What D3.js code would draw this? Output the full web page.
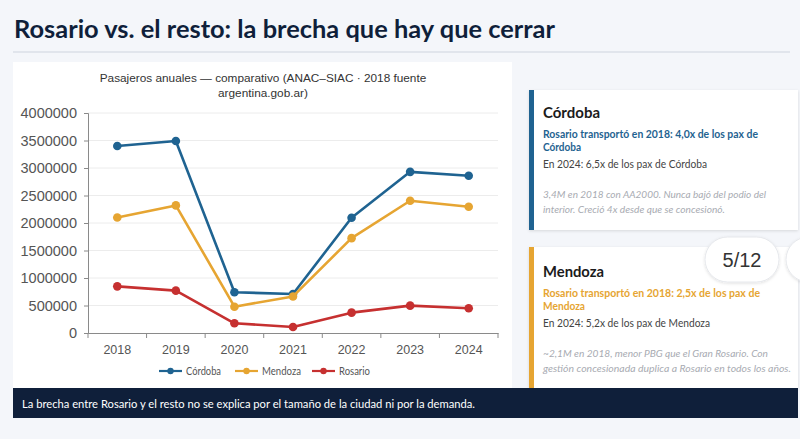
<!DOCTYPE html>
<html><head><meta charset="utf-8">
<script src="https://cdn.jsdelivr.net/npm/d3@7"></script>
<style>
html,body{margin:0;padding:0;background:#f4f6fa;}
svg{display:block;}
</style></head>
<body>
<svg id="c" width="800" height="439"></svg>
<script>
const years = ["2018","2019","2020","2021","2022","2023","2024"];
const cordoba = [3400000, 3490000, 740000, 710000, 2095000, 2930000, 2860000];
const mendoza = [2100000, 2320000, 478000, 665000, 1725000, 2405000, 2295000];
const rosario = [848000, 770000, 176000, 109000, 370000, 497000, 449000];
const seriesNames = ["Córdoba","Mendoza","Rosario"];
const seriesColors = ["#1f6391","#e6a532","#c63030"];
const yTicks = [0,500000,1000000,1500000,2000000,2500000,3000000,3500000,4000000];

const svg = d3.select("#c");
const SANS = "Lato, 'Open Sans', sans-serif";
const ARIAL = "'Liberation Sans', Arial, sans-serif";

function squeeze(t, w){
  t.attr("textLength", w).attr("lengthAdjust","spacingAndGlyphs");
  return t;
}

const defs = svg.append("defs");
const f = defs.append("filter").attr("id","sh").attr("x","-10%").attr("y","-10%").attr("width","120%").attr("height","130%");
f.append("feDropShadow").attr("dx",0).attr("dy",1).attr("stdDeviation",1.5).attr("flood-color","#000").attr("flood-opacity",0.12);

svg.append("rect").attr("width",800).attr("height",439).attr("fill","#f4f6fa");

// title
squeeze(svg.append("text").attr("x",14).attr("y",38).attr("font-family",SANS).attr("font-weight",700)
  .attr("font-size",25).attr("fill","#0f1f3a").text("Rosario vs. el resto: la brecha que hay que cerrar"), 541);
svg.append("rect").attr("x",13).attr("y",51).attr("width",777).attr("height",2).attr("fill","#e1e5ec");

// chart panel
svg.append("rect").attr("x",13).attr("y",62).attr("width",499).attr("height",330).attr("fill","#ffffff");

// chart title
const ct = svg.append("text").attr("font-family",ARIAL).attr("font-size",11.8).attr("fill","#333").attr("text-anchor","middle");
ct.append("tspan").attr("x",263).attr("y",82).text("Pasajeros anuales — comparativo (ANAC–SIAC · 2018 fuente");
ct.append("tspan").attr("x",263).attr("y",97).text("argentina.gob.ar)");

const x = d3.scaleBand().domain(years).range([88,498]).padding(0);
const y = d3.scaleLinear().domain([0,4000000]).range([333,113]);

svg.append("g").selectAll("line").data(yTicks.slice(1)).join("line")
  .attr("x1",88).attr("x2",498).attr("y1",d=>y(d)).attr("y2",d=>y(d))
  .attr("stroke","#ececec").attr("stroke-width",1);

const ya = svg.append("g").attr("transform","translate(88,0)")
  .call(d3.axisLeft(y).tickValues(yTicks).tickFormat(d3.format("d")).tickSize(4).tickPadding(7));
ya.select(".domain").attr("stroke","#8a8a8a");
ya.selectAll(".tick line").attr("stroke","#8a8a8a");
ya.selectAll("text").attr("font-family",ARIAL).attr("font-size",14.5).attr("fill","#555");

const xa = svg.append("g").attr("transform","translate(0,333)")
  .call(d3.axisBottom(x).tickSize(0).tickPadding(12));
xa.select(".domain").attr("stroke","#8a8a8a");
xa.selectAll("text").attr("font-family",ARIAL).attr("font-size",12.5).attr("fill","#555");
svg.append("g").selectAll("line").data(years.concat(["end"])).join("line")
  .attr("x1",(d,i)=> i<years.length ? x(d) : x.range()[1])
  .attr("x2",(d,i)=> i<years.length ? x(d) : x.range()[1])
  .attr("y1",333).attr("y2",338).attr("stroke","#8a8a8a");

const seriesData = [cordoba, mendoza, rosario];
const line = d3.line().x((d,i)=>x(years[i])+x.bandwidth()/2).y(d=>y(d));
seriesData.forEach((s,k)=>{
  svg.append("path").datum(s).attr("d",line).attr("fill","none")
    .attr("stroke",seriesColors[k]).attr("stroke-width",2.6).attr("stroke-linejoin","round");
  svg.append("g").selectAll("circle").data(s).join("circle")
    .attr("cx",(d,i)=>x(years[i])+x.bandwidth()/2).attr("cy",d=>y(d)).attr("r",4.3)
    .attr("fill",seriesColors[k]);
});

// legend
const legX = [159, 235, 312];
const legW = [35, 39, 31];
seriesNames.forEach((n,k)=>{
  const g = svg.append("g").attr("transform",`translate(${legX[k]},371)`);
  g.append("line").attr("x1",0).attr("x2",23).attr("y1",0).attr("y2",0).attr("stroke",seriesColors[k]).attr("stroke-width",2.2);
  g.append("circle").attr("cx",11.5).attr("cy",0).attr("r",3.2).attr("fill",seriesColors[k]);
  squeeze(g.append("text").attr("x",27).attr("y",4).attr("font-family",SANS).attr("font-size",11.5).attr("fill","#555").text(n), legW[k]);
});

// cards
const cards = [
  {y:90, h:140, color:"#1f6391", title:"Córdoba",
   l1:"Rosario transportó en 2018: 4,0x de los pax de", l2:"Córdoba",
   l3:"En 2024: 6,5x de los pax de Córdoba",
   i1:"3,4M en 2018 con AA2000. Nunca bajó del podio del", i2:"interior. Creció 4x desde que se concesionó.",
   wt:57, w1:215, w2:38, w3:164, wi1:223, wi2:182},
  {y:247, h:141, color:"#e6a532", title:"Mendoza",
   l1:"Rosario transportó en 2018: 2,5x de los pax de", l2:"Mendoza",
   l3:"En 2024: 5,2x de los pax de Mendoza",
   i1:"~2,1M en 2018, menor PBG que el Gran Rosario. Con", i2:"gestión concesionada duplica a Rosario en todos los años.",
   wt:61, w1:217, w2:42, w3:167, wi1:225, wi2:248}
];
cards.forEach((c,k)=>{
  const g = svg.append("g").attr("transform",`translate(529,${c.y})`);
  g.append("rect").attr("width",269).attr("height",c.h).attr("fill","#fff").attr("filter","url(#sh)");
  g.append("rect").attr("width",5).attr("height",c.h).attr("fill",c.color);
  const ty = k===0 ? 28 : 30;
  squeeze(g.append("text").attr("x",14).attr("y",ty).attr("font-family",SANS).attr("font-weight",700).attr("font-size",16).attr("fill","#1b1b1b").text(c.title), c.wt);
  squeeze(g.append("text").attr("x",14).attr("y",ty+20).attr("font-family",SANS).attr("font-weight",700).attr("font-size",11).attr("fill",c.color).text(c.l1), c.w1);
  squeeze(g.append("text").attr("x",14).attr("y",ty+33).attr("font-family",SANS).attr("font-weight",700).attr("font-size",11).attr("fill",c.color).text(c.l2), c.w2);
  squeeze(g.append("text").attr("x",14).attr("y",ty+50).attr("font-family",SANS).attr("font-size",11).attr("fill","#444").text(c.l3), c.w3);
  squeeze(g.append("text").attr("x",14).attr("y",ty+80).attr("font-family",SANS).attr("font-style","italic").attr("font-size",10.3).attr("fill","#a8abb2").text(c.i1), c.wi1);
  squeeze(g.append("text").attr("x",14).attr("y",ty+95).attr("font-family",SANS).attr("font-style","italic").attr("font-size",10.3).attr("fill","#a8abb2").text(c.i2), c.wi2);
});

// page indicator
svg.append("rect").attr("x",786).attr("y",237).attr("width",46).attr("height",45).attr("rx",22.5)
  .attr("fill","#fff").attr("stroke","#e6e8ec").attr("filter","url(#sh)");
svg.append("rect").attr("x",705).attr("y",237).attr("width",74).attr("height",45).attr("rx",22.5)
  .attr("fill","#fff").attr("stroke","#e6e8ec").attr("filter","url(#sh)");
svg.append("text").attr("x",742).attr("y",267).attr("text-anchor","middle").attr("font-family",ARIAL)
  .attr("font-size",20).attr("fill","#333").text("5/12");

// footer
svg.append("rect").attr("x",13).attr("y",388).attr("width",785).attr("height",30).attr("fill","#0f1f3a");
squeeze(svg.append("text").attr("x",22).attr("y",408).attr("font-family",SANS).attr("font-size",11.5).attr("fill","#fff")
  .text("La brecha entre Rosario y el resto no se explica por el tamaño de la ciudad ni por la demanda."), 453);
</script>
</body></html>
